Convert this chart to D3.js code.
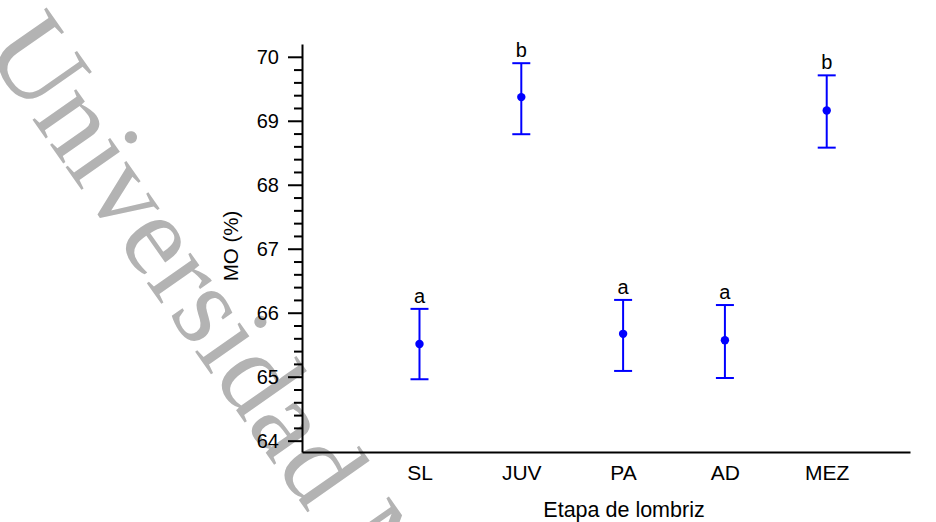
<!DOCTYPE html>
<html>
<head>
<meta charset="utf-8">
<script src="https://cdn.jsdelivr.net/npm/d3@7/dist/d3.min.js"></script>
<style>
  html, body { margin: 0; padding: 0; background: #fff; }
  svg { display: block; }
  text { font-family: "Liberation Sans", Arial, sans-serif; }
  text.watermark { font-family: "Liberation Serif", "Times New Roman", serif; }
</style>
</head>
<body>
<svg id="chart" width="936" height="522"></svg>
<script>
// ---- data ----
const categories = ["SL", "JUV", "PA", "AD", "MEZ"];
const means      = [65.51, 69.37, 65.67, 65.57, 69.16];
const lowerBars  = [64.96, 68.79, 65.09, 64.98, 68.58];
const upperBars  = [66.06, 69.90, 66.20, 66.12, 69.71];
const groupLetters = ["a", "b", "a", "a", "b"];
const yMajorTicks = [64, 65, 66, 67, 68, 69, 70];
const xTitle = "Etapa de lombriz";
const yTitle = "MO (%)";
const watermark = "Universidad Nacional";

// ---- layout ----
const svg = d3.select("#chart");
const axisLeftX = 302, axisBottomY = 452, axisTopY = 44, axisRightX = 910;

const y = d3.scaleLinear().domain([63.823, 70.2]).range([axisBottomY, axisTopY]);
const x = d3.scaleLinear().domain([-1.154, 4.818]).range([axisLeftX, axisRightX]);

// watermark (beneath the chart)
svg.append("text")
  .attr("class", "watermark")
  .attr("transform", "translate(-17,49) rotate(55)")
  .style("font-family", "'Liberation Serif', 'Times New Roman', serif")
  .attr("font-size", 116)
  .attr("fill", "#b3b3b3")
  .text(watermark);

// minor ticks
const minorTicks = d3.range(63.8, 70.21, 0.2).map(v => +v.toFixed(1))
  .filter(v => v >= 63.823 && v <= 70.0 && !yMajorTicks.includes(v));
svg.append("g")
  .attr("transform", `translate(${axisLeftX},0)`)
  .call(d3.axisLeft(y).tickValues(minorTicks).tickSize(8).tickSizeOuter(0).tickFormat(""))
  .call(g => g.select(".domain").remove())
  .call(g => g.selectAll("line").attr("stroke", "#000").attr("stroke-width", 2));

// major ticks + labels + domain
svg.append("g")
  .attr("transform", `translate(${axisLeftX},0)`)
  .call(d3.axisLeft(y).tickValues(yMajorTicks).tickSize(14).tickSizeOuter(0).tickPadding(9).tickFormat(d3.format("d")))
  .call(g => g.select(".domain").attr("stroke", "#000").attr("stroke-width", 2))
  .call(g => g.selectAll("line").attr("stroke", "#000").attr("stroke-width", 2))
  .call(g => g.selectAll("text").attr("font-size", 20).attr("fill", "#000")
      .style("font-family", "'Liberation Sans', Arial, sans-serif"));

// x axis
svg.append("g")
  .attr("transform", `translate(0,${axisBottomY})`)
  .call(d3.axisBottom(x).tickValues(d3.range(categories.length)).tickSize(0).tickSizeOuter(0)
        .tickPadding(13).tickFormat(i => categories[i]))
  .call(g => g.select(".domain").attr("stroke", "#000").attr("stroke-width", 2))
  .call(g => g.selectAll("text").attr("font-size", 21).attr("fill", "#000")
      .style("font-family", "'Liberation Sans', Arial, sans-serif"));

// axis titles
svg.append("text")
  .attr("x", 624)
  .attr("y", 517)
  .attr("text-anchor", "middle")
  .attr("font-size", 21.5)
  .text(xTitle);

svg.append("text")
  .attr("transform", "translate(238,246) rotate(-90)")
  .attr("text-anchor", "middle")
  .attr("font-size", 20.5)
  .text(yTitle);

// error bars
const blue = "#0000ff";
const g = svg.append("g");
const idx = d3.range(categories.length);
g.selectAll(".whisker").data(idx).join("line")
  .attr("x1", i => x(i)).attr("x2", i => x(i))
  .attr("y1", i => y(lowerBars[i])).attr("y2", i => y(upperBars[i]))
  .attr("stroke", blue).attr("stroke-width", 2);
g.selectAll(".capTop").data(idx).join("line")
  .attr("x1", i => x(i) - 9).attr("x2", i => x(i) + 9)
  .attr("y1", i => y(upperBars[i])).attr("y2", i => y(upperBars[i]))
  .attr("stroke", blue).attr("stroke-width", 2);
g.selectAll(".capBot").data(idx).join("line")
  .attr("x1", i => x(i) - 9).attr("x2", i => x(i) + 9)
  .attr("y1", i => y(lowerBars[i])).attr("y2", i => y(lowerBars[i]))
  .attr("stroke", blue).attr("stroke-width", 2);
g.selectAll("circle").data(idx).join("circle")
  .attr("cx", i => x(i)).attr("cy", i => y(means[i])).attr("r", 4.2)
  .attr("fill", blue);
g.selectAll(".letter").data(idx).join("text")
  .attr("x", i => x(i)).attr("y", i => y(upperBars[i]) - 6)
  .attr("text-anchor", "middle")
  .attr("font-size", 20)
  .text(i => groupLetters[i]);
</script>
</body>
</html>
